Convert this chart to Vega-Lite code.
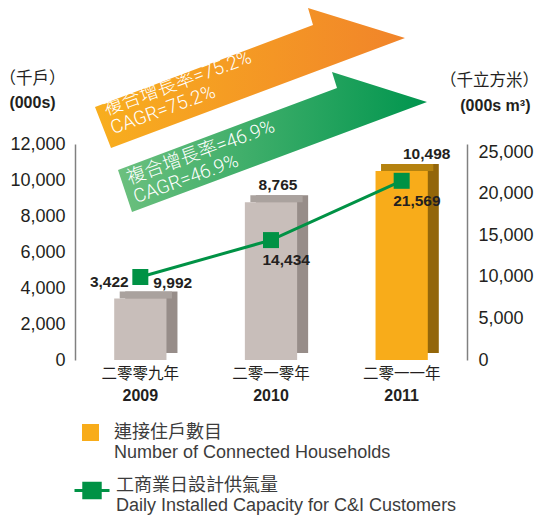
{
  "$schema": "https://vega.github.io/schema/vega-lite/v6.json",
  "width": 392,
  "height": 216,
  "autosize": {"type": "none"},
  "padding": {"left": 75, "top": 144, "right": 71, "bottom": 156},
  "background": "white",
  "config": {
    "view": {"stroke": null},
    "font": "Liberation Sans, Noto Sans CJK TC, sans-serif",
    "axis": {"grid": false, "ticks": false, "labelColor": "#231f20", "titleColor": "#231f20", "domainColor": "#808080", "domainWidth": 1.5, "labelFont": "Liberation Sans, Noto Sans CJK TC, sans-serif", "titleFont": "Liberation Sans, Noto Sans CJK TC, sans-serif"},
    "legend": {"labelFont": "Liberation Sans, Noto Sans CJK TC, sans-serif"}
  },
  "datasets": {
    "main": [
      {"period": "2009\n二零零九年", "year": 2009, "households": 3422, "capacity": 9992},
      {"period": "2010\n二零一零年", "year": 2010, "households": 8765, "capacity": 14434},
      {"period": "2011\n二零一一年", "year": 2011, "households": 10498, "capacity": 21569}
    ],
    "cagr": [
      {"metric": "households", "text": "複合增長率=75.2%\nCAGR=75.2%"},
      {"metric": "capacity", "text": "複合增長率=46.9%\nCAGR=46.9%"}
    ]
  },
  "layer": [
    {
      "data": {"name": "main"},
      "layer": [
        {
          "data": {"name": "cagr"},
          "transform": [{"filter": "datum.metric == 'households'"}],
          "mark": {"type": "point", "shape": "M-1.76,0.35L0.42,-0.47L0.37,-0.64L1.34,-0.34L-1.6,0.76Z", "size": 40000, "filled": true, "opacity": 1, "strokeWidth": 0, "clip": false,
            "fill": {"gradient": "linear", "x1": 0, "y1": 0, "x2": 1, "y2": 0, "stops": [{"offset": 0, "color": "#f8ae1e"}, {"offset": 1, "color": "#f1842a"}]}},
          "encoding": {
            "x": {"datum": "2010\n二零一零年", "type": "nominal", "axis": null},
            "y": {"datum": 16000, "type": "quantitative", "axis": null}
          }
        },
        {
          "data": {"name": "cagr"},
          "transform": [{"filter": "datum.metric == 'capacity'"}],
          "mark": {"type": "point", "shape": "M-1.53,0.98L0.66,0.16L0.61,0L1.56,0.3L-1.39,1.4Z", "size": 40000, "filled": true, "opacity": 1, "strokeWidth": 0, "clip": false,
            "fill": {"gradient": "linear", "x1": 0, "y1": 0, "x2": 1, "y2": 0, "stops": [{"offset": 0, "color": "#6cc07e"}, {"offset": 1, "color": "#00954e"}]}},
          "encoding": {
            "x": {"datum": "2010\n二零一零年", "type": "nominal", "axis": null},
            "y": {"datum": 16000, "type": "quantitative", "axis": null}
          }
        },
        {
          "data": {"name": "cagr"},
          "transform": [{"filter": "datum.metric == 'households'"}],
          "mark": {"type": "text", "lineBreak": "\n", "angle": -20, "align": "left", "baseline": "alphabetic", "dx": -34.4, "dy": -4.5, "fontSize": 19, "lineHeight": 20, "color": "white", "font": "Roboto, Noto Sans CJK TC, sans-serif", "fontWeight": 300, "clip": false},
          "encoding": {
            "x": {"datum": "2009\n二零零九年", "type": "nominal", "axis": null},
            "y": {"datum": 14000, "type": "quantitative", "axis": null},
            "text": {"field": "text"}
          }
        },
        {
          "data": {"name": "cagr"},
          "transform": [{"filter": "datum.metric == 'capacity'"}],
          "mark": {"type": "text", "lineBreak": "\n", "angle": -20, "align": "left", "baseline": "alphabetic", "dx": -11.7, "dy": 0.5, "fontSize": 19, "lineHeight": 20, "color": "white", "font": "Roboto, Noto Sans CJK TC, sans-serif", "fontWeight": 300, "clip": false},
          "encoding": {
            "x": {"datum": "2009\n二零零九年", "type": "nominal", "axis": null},
            "y": {"datum": 10000, "type": "quantitative", "axis": null},
            "text": {"field": "text"}
          }
        },
        {
          "mark": {"type": "bar", "xOffset": 11, "yOffset": -7, "y2Offset": -7},
          "encoding": {
            "x": {"field": "period", "type": "nominal", "scale": {"paddingInner": 0.6, "paddingOuter": 0.3},
              "axis": {"orient": "bottom", "title": null, "labelExpr": "split(datum.label, '\\n')[0]", "labelAngle": 0, "labelFontSize": 16, "labelFontWeight": "bold", "labelPadding": 27, "domain": false, "ticks": false}},
            "y": {"field": "households", "type": "quantitative", "scale": {"domain": [0, 12000]},
              "axis": {"orient": "left", "title": "（千戶）", "labels": false, "domain": false, "ticks": false, "grid": false, "titleAngle": 0, "titleX": -43, "titleY": -66, "titleAlign": "center", "titleBaseline": "middle", "titleFontSize": 16.5, "titleFontWeight": "normal"}},
            "fill": {"condition": {"test": "datum.year == 2011", "value": "#93660a"}, "value": "#978d89"}
          }
        },
        {
          "mark": {"type": "bar", "xOffset": 5.5, "yOffset": -7},
          "encoding": {
            "x": {"field": "period", "type": "nominal", "axis": null},
            "y": {"field": "households", "type": "quantitative", "axis": null},
            "y2": {"field": "households"},
            "fill": {"condition": {"test": "datum.year == 2011", "value": "#b5820f"}, "value": "#aaa29e"}
          }
        },
        {
          "mark": {"type": "bar"},
          "encoding": {
            "x": {"field": "period", "type": "nominal",
              "axis": {"orient": "bottom", "title": null, "labelExpr": "split(datum.label, '\\n')[1]", "labelAngle": 0, "labelFontSize": 15.5, "labelPadding": 6, "domain": false, "ticks": false}},
            "y": {"field": "households", "type": "quantitative",
              "axis": {"orient": "left", "title": "(000s)", "values": [0, 2000, 4000, 6000, 8000, 10000, 12000], "format": ",d", "labelFontSize": 18, "labelPadding": 10, "domain": true, "ticks": false, "grid": false, "titleAngle": 0, "titleX": -43, "titleY": -42, "titleAlign": "center", "titleBaseline": "middle", "titleFontSize": 16, "titleFontWeight": "bold"}},
            "color": {
              "condition": {"test": "datum.year != 2011", "value": "#c8beba"},
              "datum": "連接住戶數目\nNumber of Connected Households",
              "scale": {"range": ["#f8ac1a"]},
              "legend": {"orient": "none", "legendX": 6.5, "legendY": 279.5, "title": null, "symbolType": "square", "symbolSize": 289, "symbolStrokeWidth": 0, "labelExpr": "split(datum.label, '\\n')", "labelFontSize": 18, "labelColor": "#3c3c3c", "labelOffset": 14.5, "labelLimit": 0, "padding": 0}
            }
          }
        },
        {
          "transform": [{"filter": "datum.year == 2009"}],
          "mark": {"type": "text", "fontSize": 15.5, "fontWeight": "bold", "color": "#231f20", "baseline": "middle", "dy": -16, "dx": -31},
          "encoding": {
            "x": {"field": "period", "type": "nominal", "axis": null},
            "y": {"field": "households", "type": "quantitative", "axis": null},
            "text": {"field": "households", "format": ","}
          }
        },
        {
          "transform": [{"filter": "datum.year == 2010"}],
          "mark": {"type": "text", "fontSize": 15.5, "fontWeight": "bold", "color": "#231f20", "baseline": "middle", "dy": -17, "dx": 7},
          "encoding": {
            "x": {"field": "period", "type": "nominal", "axis": null},
            "y": {"field": "households", "type": "quantitative", "axis": null},
            "text": {"field": "households", "format": ","}
          }
        },
        {
          "transform": [{"filter": "datum.year == 2011"}],
          "mark": {"type": "text", "fontSize": 15.5, "fontWeight": "bold", "color": "#231f20", "baseline": "middle", "dy": -17, "dx": 25},
          "encoding": {
            "x": {"field": "period", "type": "nominal", "axis": null},
            "y": {"field": "households", "type": "quantitative", "axis": null},
            "text": {"field": "households", "format": ","}
          }
        }
      ],
      "resolve": {"axis": {"x": "independent", "y": "independent"}}
    },
    {
      "data": {"name": "main"},
      "layer": [
        {
          "mark": {"type": "line", "color": "#009245", "strokeWidth": 3},
          "encoding": {
            "x": {"field": "period", "type": "nominal", "axis": null},
            "y": {"field": "capacity", "type": "quantitative", "scale": {"domain": [0, 25000]},
              "axis": {"orient": "right", "title": "(000s m³)", "values": [0, 5000, 10000, 15000, 20000, 25000], "format": ",d", "labelFontSize": 18, "labelPadding": 11, "domain": true, "ticks": false, "grid": false, "titleAngle": 0, "titleX": 63, "titleY": -39, "titleAlign": "right", "titleBaseline": "middle", "titleFontSize": 16, "titleFontWeight": "bold"}}
          }
        },
        {
          "mark": {"type": "point", "shape": "square", "size": 256, "filled": true, "opacity": 1, "strokeWidth": 0},
          "encoding": {
            "x": {"field": "period", "type": "nominal", "axis": null},
            "y": {"field": "capacity", "type": "quantitative",
              "axis": {"orient": "right", "title": "（千立方米）", "labels": false, "domain": false, "ticks": false, "grid": false, "titleAngle": 0, "titleX": 22, "titleY": -64, "titleAlign": "center", "titleBaseline": "middle", "titleFontSize": 16.5, "titleFontWeight": "normal"}},
            "color": {
              "datum": "工商業日設計供氣量\nDaily Installed Capacity for C&I Customers",
              "scale": {"range": ["#009245"]},
              "legend": {"orient": "none", "legendX": -2, "legendY": 327.5, "title": null, "symbolType": "M-1,0H1M-0.47,-0.42H0.47V0.42H-0.47Z", "symbolSize": 1225, "symbolStrokeColor": "#009245", "symbolStrokeWidth": 3, "labelExpr": "split(datum.label, '\\n')", "labelBaseline": "alphabetic", "labelFontSize": 18, "labelColor": "#3c3c3c", "labelOffset": 5, "labelLimit": 0, "padding": 0}
            }
          }
        },
        {
          "transform": [{"filter": "datum.year == 2009"}],
          "mark": {"type": "text", "fontSize": 15.5, "fontWeight": "bold", "color": "#231f20", "baseline": "middle", "align": "left", "dx": 13, "dy": 6},
          "encoding": {
            "x": {"field": "period", "type": "nominal", "axis": null},
            "y": {"field": "capacity", "type": "quantitative", "axis": null},
            "text": {"field": "capacity", "format": ","}
          }
        },
        {
          "transform": [{"filter": "datum.year != 2009"}],
          "mark": {"type": "text", "fontSize": 15.5, "fontWeight": "bold", "color": "#231f20", "baseline": "middle", "align": "left", "dx": -8.5, "dy": 20},
          "encoding": {
            "x": {"field": "period", "type": "nominal", "axis": null},
            "y": {"field": "capacity", "type": "quantitative", "axis": null},
            "text": {"field": "capacity", "format": ","}
          }
        }
      ],
      "resolve": {"axis": {"y": "independent"}}
    }
  ],
  "resolve": {"scale": {"y": "independent", "color": "independent"}}
}
